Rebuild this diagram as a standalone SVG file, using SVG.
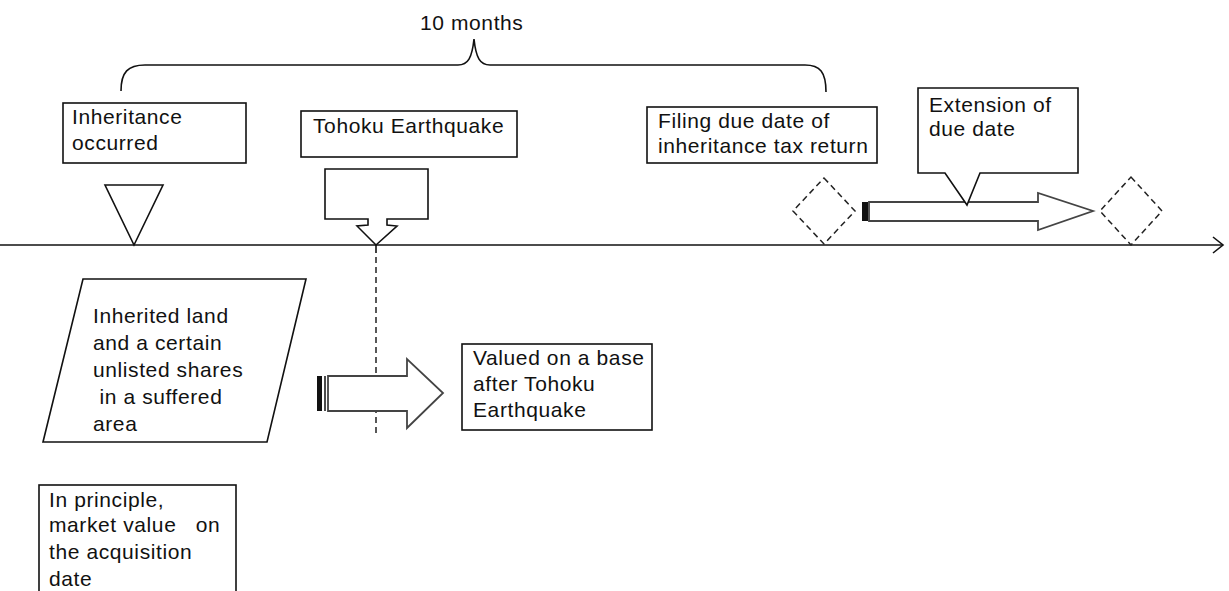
<svg xmlns="http://www.w3.org/2000/svg" width="1229" height="591" viewBox="0 0 1229 591">
<style>
.t{font-family:"Liberation Sans",Arial,sans-serif;font-size:21px;letter-spacing:0.6px;fill:#111}
.box{fill:#fff;stroke:#111;stroke-width:1.6}
.dash{fill:none;stroke:#222;stroke-width:1.5;stroke-dasharray:6 4}
.ln{fill:none;stroke:#111;stroke-width:1.6}
.arr{fill:#fff;stroke:#444;stroke-width:1.8}
</style>
<rect width="1229" height="591" fill="#fff"/>
<g id="connectors">
<line class="ln" x1="0" y1="245" x2="1223" y2="245"/>
<polyline class="ln" points="1213,237 1223,245 1213,253"/>
<line class="ln" x1="376" y1="245" x2="376" y2="253"/>
<line class="dash" x1="376" y1="257" x2="376" y2="434"/>
<path class="ln" d="M121,91 C121,72 128,65 145,65 L458,65 C468,65 472,58 474,39 C476,58 480,65 490,65 L805,65 C820,65 826,72 826,92"/>
</g>
<g id="label-10-months"><text class="t" x="420" y="30">10 months</text></g>
<g id="inheritance-occurred">
<rect class="box" x="63" y="103" width="183" height="60"/>
<text class="t" x="72" y="124">Inheritance</text>
<text class="t" x="72" y="150">occurred</text>
</g>
<g id="inheritance-marker"><polygon class="box" points="105,185 163,185 134,245"/></g>
<g id="tohoku-earthquake">
<rect class="box" x="301" y="111" width="216" height="46"/>
<text class="t" x="313" y="133">Tohoku Earthquake</text>
</g>
<g id="tohoku-callout"><polygon class="box" points="325,169 428,169 428,219 387,219 387,225 397,226 376,245 357,226 368,225 368,219 325,219"/></g>
<g id="filing-due-date">
<rect class="box" x="647" y="107" width="230" height="56"/>
<text class="t" x="658" y="128">Filing due date of</text>
<text class="t" x="658" y="153">inheritance tax return</text>
</g>
<g id="diamond-due"><polygon class="dash" points="824,178 855,211 824,244 793,211"/></g>
<g id="diamond-extended"><polygon class="dash" points="1131,177 1162,211 1131,245 1100,211"/></g>
<g id="extension-arrow">
<polygon class="arr" points="869,202 1038,202 1038,193 1093,211 1038,230 1038,221 869,221"/>
<rect x="862" y="202" width="6" height="19" fill="#111"/>
</g>
<g id="extension-of-due-date">
<polygon class="box" points="918,88 1078,88 1078,173 980,173 967,205 945,173 918,173"/>
<text class="t" x="929" y="112">Extension of</text>
<text class="t" x="929" y="136">due date</text>
</g>
<g id="inherited-land">
<polygon class="box" points="83,279 306,279 267,442 43,442"/>
<text class="t" x="93" y="323">Inherited land</text>
<text class="t" x="93" y="350">and a certain</text>
<text class="t" x="93" y="377">unlisted shares</text>
<text class="t" x="93" y="404" xml:space="preserve"> in a suffered</text>
<text class="t" x="93" y="431">area</text>
</g>
<g id="valuation-arrow">
<polygon class="arr" points="328,376 407,376 407,359 443,393 407,428 407,411 328,411"/>
<rect x="317" y="376" width="5" height="35" fill="#111"/>
<line x1="325" y1="376" x2="325" y2="411" stroke="#111" stroke-width="1.5"/>
</g>
<g id="valued-after">
<rect class="box" x="462" y="344" width="190" height="86"/>
<text class="t" x="473" y="365">Valued on a base</text>
<text class="t" x="473" y="391">after Tohoku</text>
<text class="t" x="473" y="417">Earthquake</text>
</g>
<g id="in-principle">
<rect class="box" x="39" y="485" width="197" height="120"/>
<text class="t" x="49" y="507">In principle,</text>
<text class="t" x="49" y="532" xml:space="preserve">market value   on</text>
<text class="t" x="49" y="559">the acquisition</text>
<text class="t" x="49" y="586">date</text>
</g>
</svg>
